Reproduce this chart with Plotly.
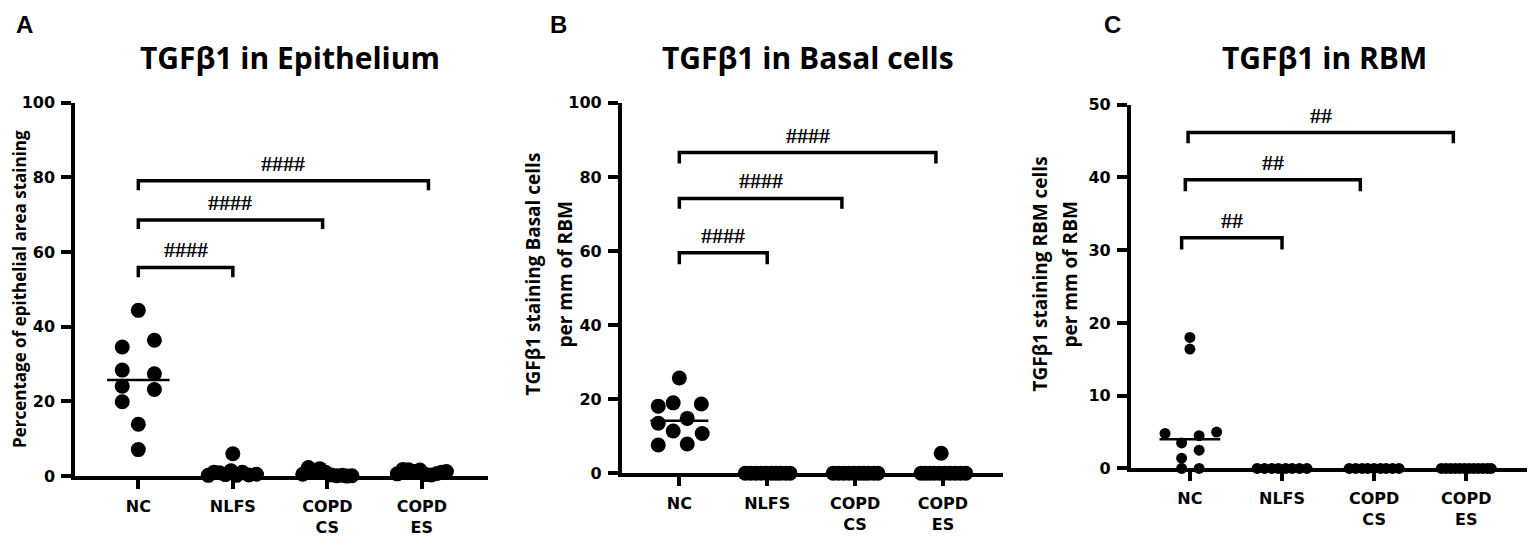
import numpy as np
import plotly.graph_objects as go

W, H = 1535, 543
OFF = 8  # the page body adds an 8px margin; shift the layout to compensate

groups = ["NC", "NLFS", "COPD<br>CS", "COPD<br>ES"]

# Panel A - percentage of epithelial area staining
a_nc = [44.4, 36.4, 34.6, 28.4, 27.4, 24.1, 23.2, 19.9, 13.9, 7.1]
a_nlfs = [6.0, 0.2, 1.0, 0.9, 0.4, 1.4, 0.2, 1.0, 0.3, 0.5]
a_cs = [0.5, 2.3, 1.2, 2.0, 1.0, 0.3, 0.1, 0.2, 0.0, 0.1]
a_es = [0.6, 1.8, 1.7, 1.2, 1.6, 0.4, 0.3, 0.7, 1.0, 1.2]

# Panel B - basal cells per mm of RBM
b_nc = [25.7, 18.1, 19.0, 18.7, 13.5, 14.8, 11.4, 10.7, 7.6, 7.9]
b_nlfs = [0, 0, 0, 0, 0, 0, 0, 0, 0, 0]
b_cs = [0, 0, 0, 0, 0, 0, 0, 0, 0, 0]
b_es = [5.4, 0, 0, 0, 0, 0, 0, 0, 0, 0, 0]

# Panel C - RBM cells per mm of RBM
c_nc = [18.0, 16.4, 4.8, 5.0, 4.5, 3.5, 2.5, 1.4, 0, 0]
c_nlfs = [0, 0, 0, 0, 0, 0, 0, 0]
c_cs = [0, 0, 0, 0, 0, 0, 0, 0, 0]
c_es = [0, 0, 0, 0, 0, 0, 0, 0, 0, 0, 0, 0]

# horizontal spread of the dots inside each column (category units)
a_nc_dx = [0, 0.17, -0.17, -0.17, 0.17, -0.17, 0.17, -0.17, 0, 0]
a_nlfs_dx = [0, -0.26, -0.2, -0.14, -0.08, -0.02, 0.04, 0.1, 0.17, 0.25]
a_cs_dx = [-0.26, -0.2, -0.14, -0.08, -0.02, 0.04, 0.1, 0.16, 0.21, 0.26]
a_es_dx = [-0.26, -0.2, -0.14, -0.08, -0.02, 0.04, 0.1, 0.16, 0.21, 0.26]
b_nc_dx = [0, -0.24, -0.07, 0.25, -0.24, 0.09, -0.07, 0.26, -0.24, 0.09]
b_zero_dx = [-0.25, -0.19, -0.13, -0.07, -0.01, 0.05, 0.1, 0.15, 0.21, 0.26]
b_es_dx = [-0.02, -0.25, -0.2, -0.15, -0.1, -0.04, 0.02, 0.08, 0.14, 0.2, 0.26]
c_nc_dx = [0, 0, -0.27, 0.29, 0.10, -0.09, 0.10, -0.09, -0.09, 0.10]
c_nlfs_dx = [-0.27, -0.19, -0.11, -0.04, 0.04, 0.11, 0.19, 0.27]
c_cs_dx = [-0.27, -0.2, -0.13, -0.07, 0.0, 0.07, 0.13, 0.2, 0.27]
c_es_dx = [-0.27, -0.22, -0.17, -0.12, -0.07, -0.02, 0.03, 0.08, 0.13, 0.18, 0.23, 0.27]

# significance brackets: (left, right, top, leg end, label)
a_brackets = [(0, 1.0, 55.9, 53.3, "####"), (0, 1.95, 68.6, 66.2, "####"), (0, 3.07, 79.1, 76.6, "####")]
b_brackets = [(0, 1.0, 59.5, 56.4, "####"), (0, 1.85, 74.2, 71.4, "####"), (0, 2.92, 86.6, 83.6, "####")]
c_brackets = [(-0.09, 1.0, 31.7, 30.1, "##"), (-0.05, 1.85, 39.7, 38.1, "##"), (-0.02, 2.86, 46.2, 44.7, "##")]

FW, FH = W - OFF, H - OFF


def px(x):
    return (x - OFF) / FW


def py(y):
    return 1 - (y - OFF) / FH


panels = [
    dict(name="A", title="TGFβ1 in Epithelium", data=[a_nc, a_nlfs, a_cs, a_es],
         dx=[a_nc_dx, a_nlfs_dx, a_cs_dx, a_es_dx], brackets=a_brackets,
         box=(75, 488, 484, 97), xr=[-0.67, 3.70], yr=[0, 100], dt=20, msize=15,
         ylab=["Percentage of epithelial area staining"], ylab_x=[20], lab_y=290, lab_size=17,
         letter_x=24, title_x=290),
    dict(name="B", title="TGFβ1 in Basal cells", data=[b_nc, b_nlfs, b_cs, b_es],
         dx=[b_nc_dx, b_zero_dx, b_zero_dx, b_es_dx], brackets=b_brackets,
         box=(621.7, 1002.7, 481, 97), xr=[-0.656, 3.68], yr=[0, 100], dt=20, msize=15,
         ylab=["TGFβ1 staining Basal cells", "per mm of RBM"], ylab_x=[533, 565], lab_y=275, lab_size=19,
         letter_x=558, title_x=808),
    dict(name="C", title="TGFβ1 in RBM", data=[c_nc, c_nlfs, c_cs, c_es],
         dx=[c_nc_dx, c_nlfs_dx, c_cs_dx, c_es_dx], brackets=c_brackets,
         box=(1130.7, 1530.7, 476, 99), xr=[-0.643, 3.70], yr=[0, 50], dt=10, msize=11,
         ylab=["TGFβ1 staining RBM cells", "per mm of RBM"], ylab_x=[1040, 1070], lab_y=275, lab_size=19,
         letter_x=1112, title_x=1324),
]

fig = go.Figure()
annotations = []
layout = {}
tick_font = dict(family="DejaVu Sans", size=16, color="black", weight="bold")

for i, p in enumerate(panels):
    n = "" if i == 0 else str(i + 1)
    xa, ya = "x" + n, "y" + n
    x0, x1, yb, yt = p["box"]

    for g, (vals, dx) in enumerate(zip(p["data"], p["dx"])):
        fig.add_trace(go.Scatter(
            x=[g + d for d in dx], y=vals, xaxis=xa, yaxis=ya, mode="markers",
            marker=dict(color="black", size=p["msize"]), cliponaxis=False,
            showlegend=False, hoverinfo="y"))
        med = float(np.median(vals))
        fig.add_trace(go.Scatter(
            x=[g - 0.33, g + 0.33], y=[med, med], xaxis=xa, yaxis=ya, mode="lines",
            line=dict(color="black", width=2.5), cliponaxis=False,
            showlegend=False, hoverinfo="skip"))

    for (bl, br, top, leg, txt) in p["brackets"]:
        fig.add_trace(go.Scatter(
            x=[bl, bl, br, br], y=[leg, top, top, leg], xaxis=xa, yaxis=ya, mode="lines",
            line=dict(color="black", width=3.5), cliponaxis=False,
            showlegend=False, hoverinfo="skip"))
        annotations.append(dict(
            x=(bl + br) / 2, y=top + (p["yr"][1] * 0.047), xref=xa, yref=ya,
            text=txt, showarrow=False, yanchor="middle",
            font=dict(family="Liberation Serif", size=22, color="black", weight="bold")))

    layout["xaxis" + n] = dict(
        domain=[px(x0), px(x1)], anchor=ya, range=p["xr"], tickvals=[0, 1, 2, 3],
        ticktext=groups, showline=True, linewidth=3.5, linecolor="black",
        ticks="outside", ticklen=9, tickwidth=3.5, tickcolor="black",
        showgrid=False, zeroline=False, tickfont=tick_font,
        ticklabelstandoff=4, fixedrange=True)
    layout["yaxis" + n] = dict(
        domain=[py(yb), py(yt)], anchor=xa, range=p["yr"],
        tickvals=list(range(0, p["yr"][1] + 1, p["dt"])),
        showline=True, linewidth=3.5, linecolor="black",
        ticks="outside", ticklen=10, tickwidth=3.5, tickcolor="black",
        showgrid=False, zeroline=False, tickfont=tick_font,
        ticklabelstandoff=3, fixedrange=True)

    annotations.append(dict(
        x=px(p["title_x"]), y=py(50), xref="paper", yref="paper", text=p["title"],
        showarrow=False, xanchor="center", yanchor="middle",
        font=dict(family="Open Sans", size=30, color="black", weight="bold")))
    annotations.append(dict(
        x=px(p["letter_x"]), y=py(16), xref="paper", yref="paper", text=p["name"],
        showarrow=False, xanchor="center", yanchor="middle",
        font=dict(family="Liberation Sans", size=24, color="black", weight="bold")))
    for lab, lx in zip(p["ylab"], p["ylab_x"]):
        annotations.append(dict(
            x=px(lx), y=py(p["lab_y"]), xref="paper", yref="paper", text=lab,
            showarrow=False, textangle=-90, xanchor="center", yanchor="middle",
            font=dict(family="Open Sans", size=p["lab_size"], color="black", weight="bold")))

fig.update_layout(
    width=FW, height=FH, margin=dict(l=0, r=0, t=0, b=0),
    plot_bgcolor="white", paper_bgcolor="white",
    annotations=annotations, **layout)

fig.write_html("out.html")
